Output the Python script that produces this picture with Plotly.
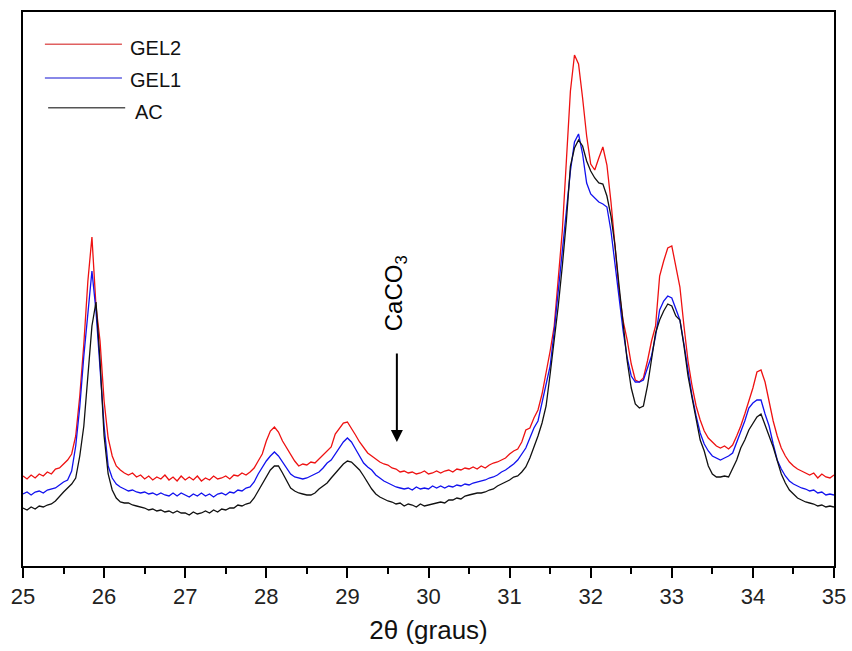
import plotly.graph_objects as go

# 2-theta grid (degrees)
two_theta = [
    25.00, 25.05, 25.10, 25.15, 25.20, 25.25, 25.30, 25.35, 25.40, 25.45,
    25.50, 25.55, 25.60, 25.65, 25.70, 25.75, 25.80, 25.85, 25.90, 25.95,
    26.00, 26.05, 26.10, 26.15, 26.20, 26.25, 26.30, 26.35, 26.40, 26.45,
    26.50, 26.55, 26.60, 26.65, 26.70, 26.75, 26.80, 26.85, 26.90, 26.95,
    27.00, 27.05, 27.10, 27.15, 27.20, 27.25, 27.30, 27.35, 27.40, 27.45,
    27.50, 27.55, 27.60, 27.65, 27.70, 27.75, 27.80, 27.85, 27.90, 27.95,
    28.00, 28.05, 28.10, 28.15, 28.20, 28.25, 28.30, 28.35, 28.40, 28.45,
    28.50, 28.55, 28.60, 28.65, 28.70, 28.75, 28.80, 28.85, 28.90, 28.95,
    29.00, 29.05, 29.10, 29.15, 29.20, 29.25, 29.30, 29.35, 29.40, 29.45,
    29.50, 29.55, 29.60, 29.65, 29.70, 29.75, 29.80, 29.85, 29.90, 29.95,
    30.00, 30.05, 30.10, 30.15, 30.20, 30.25, 30.30, 30.35, 30.40, 30.45,
    30.50, 30.55, 30.60, 30.65, 30.70, 30.75, 30.80, 30.85, 30.90, 30.95,
    31.00, 31.05, 31.10, 31.15, 31.20, 31.25, 31.30, 31.35, 31.40, 31.45,
    31.50, 31.55, 31.60, 31.65, 31.70, 31.75, 31.80, 31.85, 31.90, 31.95,
    32.00, 32.05, 32.10, 32.15, 32.20, 32.25, 32.30, 32.35, 32.40, 32.45,
    32.50, 32.55, 32.60, 32.65, 32.70, 32.75, 32.80, 32.85, 32.90, 32.95,
    33.00, 33.05, 33.10, 33.15, 33.20, 33.25, 33.30, 33.35, 33.40, 33.45,
    33.50, 33.55, 33.60, 33.65, 33.70, 33.75, 33.80, 33.85, 33.90, 33.95,
    34.00, 34.05, 34.10, 34.15, 34.20, 34.25, 34.30, 34.35, 34.40, 34.45,
    34.50, 34.55, 34.60, 34.65, 34.70, 34.75, 34.80, 34.85, 34.90, 34.95,
    35.00,
]

# Intensities (arbitrary units)
gel2 = [
    90, 87, 91, 88, 92, 90, 94, 92, 97, 98,
    102, 106, 112, 130, 170, 222, 285, 329, 260, 225,
    165, 128, 110, 100, 96, 93, 91, 93, 89, 91,
    87, 90, 86, 89, 87, 91, 86, 89, 85, 90,
    86, 89, 86, 90, 85, 88, 86, 90, 87, 88,
    90, 87, 91, 90, 93, 91, 94, 98, 105, 112,
    125, 135, 139, 134, 125, 118, 112, 105, 100, 102,
    101, 104, 103, 107, 110, 115, 119, 132, 138, 143,
    144, 138, 131, 124, 118, 113, 110, 107, 104, 102,
    101, 98, 97, 94, 95, 93, 94, 92, 93, 95,
    92, 93, 95, 93, 95, 96, 94, 97, 96, 98,
    97, 99, 97, 100, 98, 101, 103, 104, 106, 108,
    112, 115, 117, 124, 136, 138, 148, 156, 172, 192,
    215, 240, 290, 335, 405, 475, 511, 502, 468, 430,
    402, 396, 408, 419, 401, 364, 320, 275, 245, 226,
    202, 186, 184, 188, 205, 225, 240, 290, 305, 318,
    320, 298, 279, 240, 205, 180, 160, 146, 135, 128,
    124, 120, 118, 120, 117, 121, 130, 140, 152, 165,
    178, 194, 196, 184, 165, 145, 130, 118, 110, 104,
    100, 97, 95, 93, 91, 93, 88, 92, 89, 88,
    91,
]

gel1 = [
    72, 74, 71, 74, 75, 73, 76, 77, 78, 81,
    84, 86, 95, 120, 159, 210, 255, 295, 255, 200,
    140, 100, 88, 82, 79, 77, 75, 76, 74, 73,
    74, 72, 73, 71, 73, 71, 70, 73, 70, 73,
    71, 69, 72, 70, 73, 70, 72, 69, 72, 73,
    71, 74, 73, 76, 75, 78, 79, 84, 92, 99,
    105, 110, 114, 110, 104, 97, 92, 89, 88, 87,
    88, 90, 92, 94, 98, 103, 106, 112, 118, 124,
    128, 124, 117, 110, 103, 99, 96, 91, 88, 85,
    83, 81, 79, 78, 77, 78, 76, 79, 77, 78,
    77, 80, 78, 80, 78, 80, 79, 81, 80, 82,
    81, 83, 84, 85, 86, 88, 89, 91, 94, 96,
    99, 102, 106, 112, 118, 128, 138, 145, 164, 180,
    200, 235, 275, 315, 355, 395, 424, 432, 412, 383,
    372, 368, 364, 362, 359, 335, 300, 270, 235, 208,
    190, 184, 184, 186, 198, 210, 230, 256, 265, 270,
    268, 258, 246, 222, 195, 170, 150, 133, 122, 115,
    110, 108, 106, 108, 110, 113, 124, 133, 145, 158,
    163, 166, 166, 152, 140, 122, 106, 97, 90, 85,
    82, 80, 78, 77, 75, 76, 73, 74, 71, 72,
    71,
]

ac = [
    58, 56, 59, 57, 60, 59, 61, 62, 65, 70,
    74, 78, 82, 88, 110, 140, 190, 240, 264, 205,
    130, 92, 76, 68, 64, 63, 63, 61, 60, 59,
    58, 56, 57, 55, 56, 54, 55, 53, 55, 53,
    53, 51, 54, 52, 53, 55, 53, 56, 54, 57,
    56, 58, 58, 61, 60, 62, 63, 68, 75, 82,
    90, 96, 100, 100, 93, 85, 78, 75, 73, 72,
    71, 71, 73, 77, 80, 83, 88, 93, 98, 102,
    105, 104, 100, 96, 90, 83, 77, 72, 69, 67,
    65, 64, 62, 63, 60, 62, 61, 59, 62, 60,
    61, 62, 63, 64, 63, 66, 66, 68, 67, 70,
    71, 72, 73, 73, 74, 76, 77, 80, 82, 84,
    86, 89, 90, 94, 99, 108, 118, 130, 143, 160,
    192, 225, 260, 300, 345, 400, 418, 426, 420, 405,
    395, 388, 383, 382, 370, 350, 320, 280, 243, 205,
    178, 162, 158, 160, 180, 205, 233, 246, 255, 262,
    260, 250, 246, 220, 190, 168, 145, 126, 115, 100,
    92, 89, 89, 90, 89, 98, 106, 118, 126, 136,
    143, 149, 152, 140, 130, 119, 105, 92, 83, 76,
    72, 68, 66, 64, 63, 62, 60, 61, 59, 60,
    59,
]

series_names = ["GEL2", "GEL1", "AC"]
series_colors = ["#ee1111", "#1111ee", "#111111"]
x_ticks = [25, 26, 27, 28, 29, 30, 31, 32, 33, 34, 35]
x_minor = [25.5, 26.5, 27.5, 28.5, 29.5, 30.5, 31.5, 32.5, 33.5, 34.5]
x_title = "2θ (graus)"
marker_label = "CaCO<sub>3</sub>"
marker_pos = 29.61

FONT = "Arial, Liberation Sans, sans-serif"

fig = go.Figure()
for name, ys, col in zip(series_names, [gel2, gel1, ac], series_colors):
    fig.add_trace(go.Scatter(x=two_theta, y=ys, mode="lines", name=name,
                             line=dict(color=col, width=1.3), showlegend=False))

# Manual legend (long line samples as in the reference)
leg_y = [0.942, 0.881, 0.827]
leg_x0 = [0.027, 0.027, 0.031]
leg_x1 = [0.122, 0.122, 0.126]
leg_tx = [0.1295, 0.1295, 0.1356]
leg_ty = [0.935, 0.877, 0.8195]
leg_cols = ["#e06060", "#6060e0", "#555555"]
for i, name in enumerate(series_names):
    fig.add_shape(type="line", xref="paper", yref="paper",
                  x0=leg_x0[i], x1=leg_x1[i], y0=leg_y[i], y1=leg_y[i],
                  line=dict(color=leg_cols[i], width=1.5))
    fig.add_annotation(xref="paper", yref="paper", x=leg_tx[i], y=leg_ty[i],
                       text=name, showarrow=False, xanchor="left", yanchor="middle",
                       font=dict(family=FONT, size=20, color="#111"))

# CaCO3 arrow and label
fig.add_annotation(x=marker_pos, y=124, ax=marker_pos, ay=214, axref="x", ayref="y",
                   xref="x", yref="y", text="", showarrow=True,
                   arrowhead=2, arrowsize=1.2, arrowwidth=2, arrowcolor="#000")
fig.add_annotation(x=marker_pos - 0.02, y=273, xref="x", yref="y",
                   text=marker_label, showarrow=False, textangle=-90,
                   font=dict(family=FONT, size=24, color="#000"))

fig.update_layout(
    width=852, height=651,
    margin=dict(l=23, r=18, t=12, b=85, autoexpand=False),
    paper_bgcolor="white", plot_bgcolor="white",
    xaxis=dict(range=[25, 35], tickvals=x_ticks, ticks="outside", ticklen=10,
               tickwidth=2, tickcolor="#000", showline=True, linewidth=2,
               linecolor="#000", mirror=True, showgrid=False, zeroline=False,
               automargin=False,
               tickfont=dict(family=FONT, size=22, color="#222"),
               minor=dict(tickvals=x_minor, ticks="outside", ticklen=6,
                          tickwidth=2, tickcolor="#000"),
               title=dict(text=x_title, standoff=12,
                          font=dict(family=FONT, size=26, color="#111"))),
    yaxis=dict(range=[0, 554], showticklabels=False, ticks="", showline=True,
               linewidth=2, linecolor="#000", mirror=True, showgrid=False,
               zeroline=False, automargin=False),
)

fig.write_html("out.html")
